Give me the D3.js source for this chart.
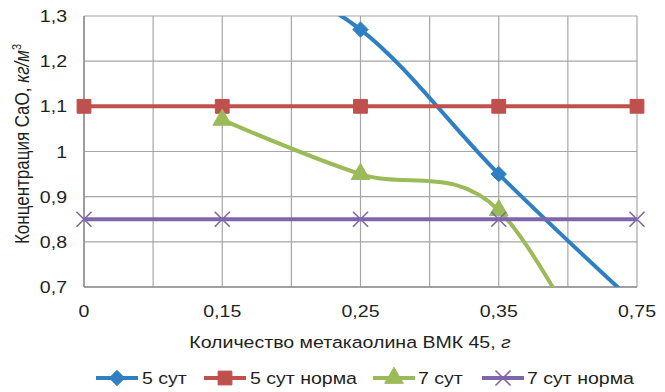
<!DOCTYPE html>
<html>
<head>
<meta charset="utf-8">
<script src="https://cdn.jsdelivr.net/npm/d3@7/dist/d3.min.js"></script>
<style>
  html, body { margin: 0; padding: 0; background: #fff; }
  svg { display: block; font-family: "Liberation Sans", Arial, sans-serif; }
</style>
</head>
<body>
<svg id="chart" width="665" height="392"></svg>
<script>
// Categories on the x axis (amount of metakaolin, g)
const categories = ["0", "0,15", "0,25", "0,35", "0,75"];

// CaO concentration, kg/m3, per category
const sut5      = [1.50, 1.42, 1.27, 0.95, 0.66];
const sut5Norm  = [1.1, 1.1, 1.1, 1.1, 1.1];
const sut7      = [null, 1.07, 0.95, 0.87, 0.35];
const sut7Norm  = [0.85, 0.85, 0.85, 0.85, 0.85];

const yTicks = [0.7, 0.8, 0.9, 1.0, 1.1, 1.2, 1.3];
const yTickLabels = ["0,7", "0,8", "0,9", "1", "1,1", "1,2", "1,3"];

const series = [
  { name: "5 сут",       values: sut5,     color: "#2f80c2", marker: "diamond" },
  { name: "5 сут норма", values: sut5Norm, color: "#c0504d", marker: "square" },
  { name: "7 сут",       values: sut7,     color: "#9bbb59", marker: "triangle" },
  { name: "7 сут норма", values: sut7Norm, color: "#7f66ab", marker: "cross" }
];

const svg = d3.select("#chart");
const plot = { left: 84, right: 637, top: 16, bottom: 287 };
const textColor = "#231f20";
const fontSize = 17;
const widen = 1.15;   // glyphs are set slightly wide

const x = d3.scaleLinear().domain([0, categories.length - 1]).range([plot.left, plot.right]);
const y = d3.scaleLinear().domain([0.7, 1.3]).range([plot.bottom, plot.top]);

// Text placed at (px, py), widened horizontally about its anchor point
function label(parent, px, py, anchor) {
  return parent.append("text")
    .attr("transform", `translate(${px},${py}) scale(${widen},1)`)
    .attr("text-anchor", anchor)
    .attr("font-size", fontSize).attr("fill", textColor);
}

// Gridlines: horizontal at each value tick, vertical at every half category
const grid = svg.append("g");
grid.selectAll("line.h").data(yTicks).join("line")
  .attr("x1", plot.left).attr("x2", plot.right)
  .attr("y1", d => y(d)).attr("y2", d => y(d))
  .attr("stroke", "#a6a6a6").attr("stroke-width", 1.2);
grid.selectAll("line.v").data(d3.range(0, categories.length - 0.5, 0.5)).join("line")
  .attr("x1", d => x(d)).attr("x2", d => x(d))
  .attr("y1", plot.top).attr("y2", plot.bottom)
  .attr("stroke", "#a6a6a6").attr("stroke-width", 1.2);

// Axes lines
svg.append("line").attr("x1", plot.left).attr("x2", plot.left)
  .attr("y1", plot.top).attr("y2", plot.bottom).attr("stroke", "#8f8f8f").attr("stroke-width", 1.5);
svg.append("line").attr("x1", plot.left).attr("x2", plot.right)
  .attr("y1", plot.bottom).attr("y2", plot.bottom).attr("stroke", "#8f8f8f").attr("stroke-width", 1.5);

// Y tick labels
const yl = svg.append("g");
yTicks.forEach((t, i) => label(yl, 67, y(t) + 6, "end").text(yTickLabels[i]));

// X tick labels
const xl = svg.append("g");
categories.forEach((c, i) => label(xl, x(i), 317, "middle").text(c));

// Axis titles
const xt = label(svg, 350, 348, "middle");
xt.append("tspan").text("Количество метакаолина ВМК 45, ");
xt.append("tspan").attr("font-style", "italic").text("г");

const yt = svg.append("text")
  .attr("transform", `translate(29,144) scale(${widen},1) rotate(-90)`)
  .attr("text-anchor", "middle").attr("font-size", fontSize).attr("fill", textColor);
yt.append("tspan").text("Концентрация CaO, ");
yt.append("tspan").attr("font-style", "italic").text("кг/м");
yt.append("tspan").attr("font-size", 11).attr("dy", -7).text("3");

// Clip for series lines
svg.append("clipPath").attr("id", "plotClip").append("rect")
  .attr("x", plot.left).attr("y", plot.top)
  .attr("width", plot.right - plot.left).attr("height", plot.bottom - plot.top);

const line = d3.line()
  .defined(d => d != null)
  .x((d, i) => x(i)).y(d => y(d))
  .curve(d3.curveCardinal.tension(0));

const symbolFor = {
  diamond: d3.symbol().type(d3.symbolDiamond2).size(150),
  square: d3.symbol().type(d3.symbolSquare).size(190),
  triangle: d3.symbol().type(d3.symbolTriangle).size(150),
  cross: d3.symbol().type(d3.symbolX).size(150)
};

function drawMarker(g, s, cx, cy) {
  const p = g.append("path").attr("d", symbolFor[s.marker]())
    .attr("transform", `translate(${cx},${cy})`);
  if (s.marker === "cross") {
    p.attr("fill", "none").attr("stroke", s.color).attr("stroke-width", 1.6);
  } else {
    p.attr("fill", s.color).attr("stroke", s.color).attr("stroke-width", 1);
  }
}

const [yMin, yMax] = y.domain();
series.forEach(s => {
  svg.append("path").datum(s.values)
    .attr("clip-path", "url(#plotClip)")
    .attr("d", line)
    .attr("fill", "none").attr("stroke", s.color)
    .attr("stroke-width", 4).attr("stroke-linejoin", "round");
  const mg = svg.append("g");
  s.values.forEach((v, i) => {
    if (v != null && v >= yMin && v <= yMax) drawMarker(mg, s, x(i), y(v));
  });
});

// Legend
const legendItems = [
  { lx: 96, tx: 142 },
  { lx: 204, tx: 250 },
  { lx: 373, tx: 418 },
  { lx: 482, tx: 527 }
];
const ly = 378;
series.forEach((s, i) => {
  const g = svg.append("g");
  const it = legendItems[i];
  g.append("line").attr("x1", it.lx).attr("x2", it.lx + 42)
    .attr("y1", ly).attr("y2", ly).attr("stroke", s.color).attr("stroke-width", 4);
  drawMarker(g, s, it.lx + 21, ly);
  label(g, it.tx, ly + 6, "start").text(s.name);
});
</script>
</body>
</html>
